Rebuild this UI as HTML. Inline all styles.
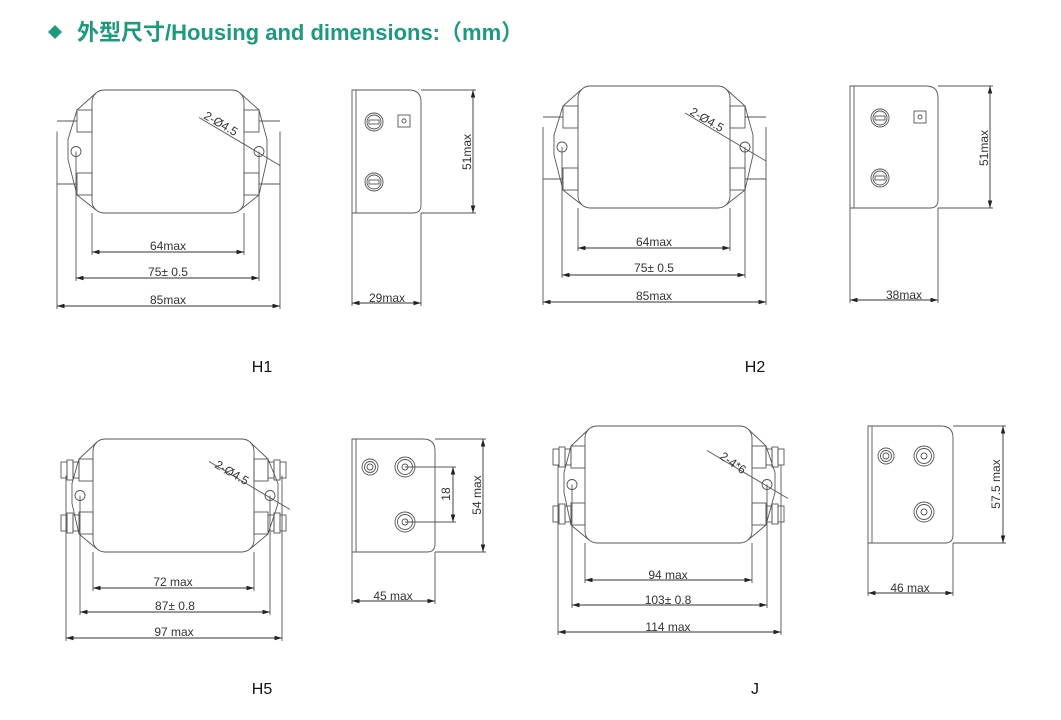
<!DOCTYPE html>
<html><head><meta charset="utf-8"><style>
html,body{margin:0;padding:0;background:#fff;width:1061px;height:720px;overflow:hidden}
svg text{font-family:"Liberation Sans",Arial,sans-serif;fill:#333;font-size:12px}
svg text.t{font-family:"Liberation Sans","Noto Sans CJK SC",sans-serif;font-weight:bold;font-size:22px;fill:#1b9a7d}
svg text.L{font-size:16px;fill:#111}
</style></head><body>
<svg id="s" width="1061" height="720" viewBox="0 0 1061 720" xmlns="http://www.w3.org/2000/svg">
<defs><marker id="a" viewBox="0 0 10 6" refX="10" refY="3" markerWidth="9" markerHeight="5" orient="auto-start-reverse"><path d="M0,0L10,3L0,6z" fill="#222"/></marker></defs>
<path d="M48,32 l7,-7 l7,7 l-7,7z" fill="#1b9a7d"/>
<text class="t" x="77" y="40">外型尺寸/Housing and dimensions:（mm）</text>
<g id="g" fill="none" stroke="#555" stroke-width="0.9"></g>
<text x="168" y="250" text-anchor="middle">64max</text>
<text x="168" y="276" text-anchor="middle">75± 0.5</text>
<text x="168" y="304" text-anchor="middle">85max</text>
<text x="203" y="118" transform="rotate(30 203 118)">2-Ø4.5</text>
<text x="387" y="302" text-anchor="middle">29max</text>
<text x="471" y="152" transform="rotate(-90 471 152)" text-anchor="middle">51max</text>
<text class="L" x="262" y="372" text-anchor="middle">H1</text>
<text x="654" y="246" text-anchor="middle">64max</text>
<text x="654" y="272" text-anchor="middle">75± 0.5</text>
<text x="654" y="300" text-anchor="middle">85max</text>
<text x="689" y="114" transform="rotate(30 689 114)">2-Ø4.5</text>
<text x="904" y="299" text-anchor="middle">38max</text>
<text x="988" y="148" transform="rotate(-90 988 148)" text-anchor="middle">51max</text>
<text class="L" x="755" y="372" text-anchor="middle">H2</text>
<text x="173" y="586" text-anchor="middle">72 max</text>
<text x="175" y="610" text-anchor="middle">87± 0.8</text>
<text x="174" y="636" text-anchor="middle">97 max</text>
<text x="214" y="467" transform="rotate(30 214 467)">2-Ø4.5</text>
<text x="393" y="600" text-anchor="middle">45 max</text>
<text x="450" y="494" transform="rotate(-90 450 494)" text-anchor="middle">18</text>
<text x="481" y="495" transform="rotate(-90 481 495)" text-anchor="middle">54 max</text>
<text class="L" x="262" y="694" text-anchor="middle">H5</text>
<text x="668" y="579" text-anchor="middle">94 max</text>
<text x="668" y="604" text-anchor="middle">103± 0.8</text>
<text x="668" y="631" text-anchor="middle">114 max</text>
<text x="719" y="458" transform="rotate(35 719 458)">2-4*6</text>
<text x="910" y="592" text-anchor="middle">46 max</text>
<text x="1000" y="484" transform="rotate(-90 1000 484)" text-anchor="middle">57.5 max</text>
<text class="L" x="755" y="694" text-anchor="middle">J</text>
</svg>
<script>
var g=document.getElementById('g'),h='';
function L(a,b,c,d,arr){h+='<line x1="'+a+'" y1="'+b+'" x2="'+c+'" y2="'+d+'"'+(arr?' marker-start="url(#a)" marker-end="url(#a)" stroke="#333"':'')+'/>';}
function C(x,y,r){h+='<circle cx="'+x+'" cy="'+y+'" r="'+r+'"/>';}
function R(x,y,w,hh){h+='<rect x="'+x+'" y="'+y+'" width="'+w+'" height="'+hh+'"/>';}
function front(x1,x2,y1,y2,hx1,hx2,e1,e2,d1,d2,d3,stud){
 var r=12,ym=(y1+y2)/2;
 h+='<rect x="'+x1+'" y="'+y1+'" width="'+(x2-x1)+'" height="'+(y2-y1)+'" rx="'+r+'"/>';
 var bw=stud?14:15,t1=y1+20,t2=y2-40,th=22;
 h+='<path d="M'+(x1+4)+','+(y1+3)+' L'+(x1-bw)+','+(t1)+' L'+(hx1-8)+','+(ym-12)+' L'+(hx1-8)+','+(ym+8)+' L'+(x1-bw)+','+(t2+th)+' L'+(x1+4)+','+(y2-3)+'"/>';
 h+='<path d="M'+(x2-4)+','+(y1+3)+' L'+(x2+bw)+','+(t1)+' L'+(hx2+8)+','+(ym-12)+' L'+(hx2+8)+','+(ym+8)+' L'+(x2+bw)+','+(t2+th)+' L'+(x2-4)+','+(y2-3)+'"/>';
 [t1,t2].forEach(function(t){R(x1-bw,t,bw,th);R(x2,t,bw,th);
  if(stud){[[x1-bw,-1],[x2+bw,1]].forEach(function(p){var b=p[0],s=p[1];
    for(var k=0;k<3;k++){R(s>0?b+k*6:b-(k+1)*6,t+3-(k==1?2:0),6,th-6+(k==1?4:0));}
  });}
  else{L(e1,t+th/2,x1-bw,t+th/2);L(x2+bw,t+th/2,e2,t+th/2);}
 });
 C(hx1,ym,5);C(hx2,ym,5);
 L(x2-45,ym-34,x2+36,ym+14);
 L(x1,y2,x1,d1+3);L(x2,y2,x2,d1+3);L(x1,d1,x2,d1,1);
 L(hx1,ym,hx1,d2+3);L(hx2,ym,hx2,d2+3);L(hx1,d2,hx2,d2,1);
 L(e1,ym-20,e1,d3+3);L(e2,ym-20,e2,d3+3);L(e1,d3,e2,d3,1);
}
function side(x1,x2,y1,y2,dx,dw,studs,fuse){
 h+='<path d="M'+x1+','+y1+' H'+(x2-12)+' Q'+x2+','+y1+' '+x2+','+(y1+12)+' V'+(y2-8)+' Q'+x2+','+y2+' '+(x2-8)+','+y2+' H'+x1+'Z"/>';
 L(x1+4,y1,x1+4,y2);
 L(x2,y1,dx+3,y1);L(x2,y2,dx+3,y2);L(dx,y1,dx,y2,1);
 L(x1,y2,x1,dw+3);L(x2,y2,x2,dw+3);L(x1,dw,x2,dw,1);
 if(fuse){fuse.forEach(function(p){C(p[0],p[1],9);C(p[0],p[1],7);R(p[0]-5,p[1]-2,10,4);});}
 if(studs){studs.forEach(function(p){C(p[0],p[1],p[2]);C(p[0],p[1],p[2]-2.5);C(p[0],p[1],3);});}
}
front(92,244,90,213,76,259,57,280,252,278,306,0);
side(352,421,90,213,473,303,null,[[374,122],[374,182]]);R(398,115,12,12);C(404,121,2);
front(578,730,86,208,562,745,543,766,248,275,302,0);
side(850,938,86,208,990,300,null,[[880,118],[880,178]]);R(914,111,12,12);C(920,117,2);
front(93,254,439,552,80,270,66,282,588,612,638,1);
side(352,435,439,552,483,601,[[370,467,8],[405,467,10],[405,522,10]]);
L(405,467,456,467);L(405,522,456,522);L(453,467,453,522,1);
front(585,752,426,543,572,767,558,781,580,605,632,1);
side(868,953,426,543,1003,593,[[886,456,8],[924,456,10],[924,512,10]]);
g.innerHTML=h;
</script>
</body></html>
